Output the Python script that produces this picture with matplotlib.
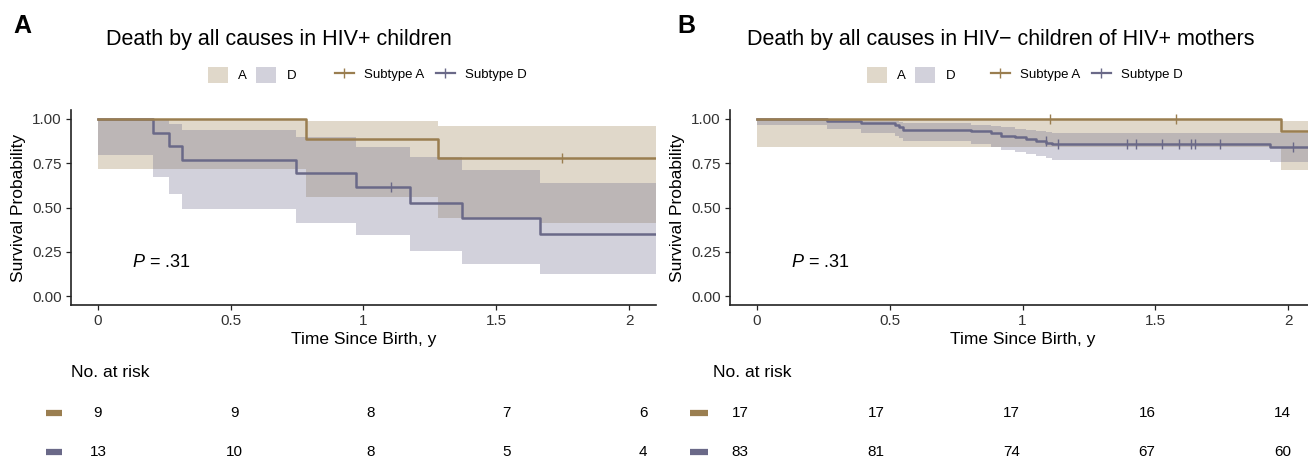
import matplotlib
matplotlib.use("Agg")
import matplotlib.pyplot as plt
from matplotlib.patches import Patch
from matplotlib.lines import Line2D

plt.rcParams['font.family'] = ['Liberation Sans', 'DejaVu Sans']
plt.rcParams['mathtext.fontset'] = 'custom'
plt.rcParams['mathtext.it'] = 'Liberation Sans:italic'
plt.rcParams['mathtext.rm'] = 'Liberation Sans'

# colours
col_a = '#9A7E50'
col_d = '#6A6988'

# ---- panel A: HIV+ children ----
pa_a_time = [0, 0.783, 1.282]
pa_a_surv = [1.0, 0.889, 0.778]
pa_a_cens = [1.748]
pa_a_band_time = [0, 0.783, 1.282, 1.662]
pa_a_lower = [0.717, 0.56, 0.438, 0.415]
pa_a_upper = [1.0, 0.99, 0.957, 0.957]

pa_d_time = [0, 0.209, 0.27, 0.318, 0.748, 0.971, 1.173, 1.371, 1.662]
pa_d_surv = [1.0, 0.923, 0.846, 0.769, 0.692, 0.615, 0.527, 0.439, 0.351]
pa_d_cens = [1.105]
pa_d_lower = [0.796, 0.674, 0.575, 0.491, 0.413, 0.343, 0.253, 0.183, 0.125]
pa_d_upper = [1.0, 1.0, 0.972, 0.938, 0.896, 0.843, 0.783, 0.711, 0.636]

pa_risk_a = [9, 9, 8, 7, 6]
pa_risk_d = [13, 10, 8, 5, 4]

# ---- panel B: HIV- children of HIV+ mothers ----
pb_a_time = [0, 1.974]
pb_a_surv = [1.0, 0.933]
pb_a_cens = [1.102, 1.576]
pb_a_band_time = [0, 1.974]
pb_a_lower = [0.84, 0.714]
pb_a_upper = [1.0, 0.99]

pb_d_time = [0, 0.265, 0.392, 0.52, 0.535, 0.55, 0.807, 0.882, 0.92, 0.97,
             1.014, 1.051, 1.09, 1.11, 1.929]
pb_d_surv = [1.0, 0.988, 0.976, 0.964, 0.952, 0.940, 0.930, 0.918, 0.906, 0.895,
             0.885, 0.875, 0.866, 0.857, 0.843]
pb_d_cens = [1.089, 1.133, 1.392, 1.425, 1.525, 1.590, 1.634, 1.649, 1.741, 2.017]
pb_d_lower = [0.968, 0.945, 0.921, 0.905, 0.89, 0.874, 0.859, 0.84, 0.827, 0.814,
              0.80, 0.79, 0.78, 0.77, 0.757]
pb_d_upper = [1.0, 0.998, 0.99, 0.988, 0.985, 0.978, 0.968, 0.96, 0.952, 0.945,
              0.937, 0.93, 0.925, 0.921, 0.92]

pb_risk_a = [17, 17, 17, 16, 14]
pb_risk_d = [83, 81, 74, 67, 60]

risk_times = [0, 0.5, 1, 1.5, 2]
x_ticks = [0, 0.5, 1, 1.5, 2]
x_tick_labels = ['0', '0.5', '1', '1.5', '2']
y_ticks = [0, 0.25, 0.5, 0.75, 1.0]

XMAX = 2.1
W, H = 1308, 462
fig = plt.figure(figsize=(W / 100, H / 100), dpi=100)


def px_axes(left, top, right, bottom):
    return fig.add_axes([left / W, 1 - bottom / H, (right - left) / W, (bottom - top) / H])


def step_at(t, s, x, default):
    v = default
    for ti, si in zip(t, s):
        if ti <= x:
            v = si
    return v


def km_panel(ax, a_t, a_s, a_c, a_bt, a_lo, a_hi, d_t, d_s, d_c, d_lo, d_hi):
    # confidence bands
    ax.fill_between(a_bt + [XMAX], a_lo + [a_lo[-1]], a_hi + [a_hi[-1]],
                    step='post', color=col_a, alpha=0.3, lw=0)
    ax.fill_between(d_t + [XMAX], d_lo + [d_lo[-1]], d_hi + [d_hi[-1]],
                    step='post', color=col_d, alpha=0.3, lw=0)
    # curves
    ax.step(d_t + [XMAX], d_s + [d_s[-1]], where='post', color=col_d, lw=1.8)
    ax.step(a_t + [XMAX], a_s + [a_s[-1]], where='post', color=col_a, lw=1.8)
    # censor marks
    ax.plot(a_c, [step_at(a_t, a_s, c, 1.0) for c in a_c], ls='none',
            marker='|', ms=7, mew=1.0, color=col_a)
    ax.plot(d_c, [step_at(d_t, d_s, c, 1.0) for c in d_c], ls='none',
            marker='|', ms=7, mew=1.0, color=col_d)

    ax.set_xlim(-0.1, XMAX)
    ax.set_ylim(-0.05, 1.05)
    ax.set_xticks(x_ticks)
    ax.set_xticklabels(x_tick_labels)
    ax.set_yticks(y_ticks)
    ax.set_yticklabels(['%.2f' % v for v in y_ticks])
    for sp in ['top', 'right']:
        ax.spines[sp].set_visible(False)
    for sp in ['left', 'bottom']:
        ax.spines[sp].set_linewidth(1.2)
        ax.spines[sp].set_color('#222222')
    ax.tick_params(labelsize=11, length=3.5, width=0.9, pad=3, colors='#222222',
                   labelcolor='#333333')
    ax.set_xlabel('Time Since Birth, y', fontsize=12.5)
    ax.set_ylabel('Survival Probability', fontsize=12.5)
    ax.xaxis.set_label_coords(0.5, -0.14)
    ax.yaxis.set_label_coords(-0.077, 0.5)
    ax.text(0.13, 0.19, r'$P$ = .31', fontsize=13, va='center', ha='left')


def risk_table(ax, risk_a, risk_d, dash):
    ax.set_xlim(-0.1, XMAX)
    ax.set_ylim(1.5, -0.5)
    ax.axis('off')
    for row, (vals, col) in enumerate([(risk_a, col_a), (risk_d, col_d)]):
        for t, v in zip(risk_times, vals):
            ax.text(t, row, str(v), ha='center', va='center', fontsize=11)
        ax.plot(dash, [row, row], color=col, lw=4.5, solid_capstyle='butt', clip_on=False)
    ax.text(0, 1.27, 'No. at risk', transform=ax.transAxes, ha='left', va='center',
            fontsize=12.5)


def legends(x_patch, x_line):
    patch_handles = [Patch(facecolor=col_a, alpha=0.3, lw=0),
                     Patch(facecolor=col_d, alpha=0.3, lw=0)]
    line_handles = [Line2D([0], [0], color=col_a, lw=1.6, marker='|', ms=7, mew=1),
                    Line2D([0], [0], color=col_d, lw=1.6, marker='|', ms=7, mew=1)]
    fig.legend(patch_handles, ['A', 'D'], loc='center', ncol=2, frameon=False,
               bbox_to_anchor=(x_patch / W, 1 - 75 / H), fontsize=9.5,
               handlelength=1.5, handleheight=1.5, handletextpad=0.8,
               columnspacing=0.7, borderpad=0)
    fig.legend(line_handles, ['Subtype A', 'Subtype D'], loc='center', ncol=2,
               frameon=False, bbox_to_anchor=(x_line / W, 1 - 75 / H), fontsize=9.5,
               handlelength=1.4, handletextpad=0.8, columnspacing=0.9, borderpad=0)


ax_a = px_axes(71, 110, 656, 305)
km_panel(ax_a, pa_a_time, pa_a_surv, pa_a_cens, pa_a_band_time, pa_a_lower, pa_a_upper,
         pa_d_time, pa_d_surv, pa_d_cens, pa_d_lower, pa_d_upper)
ax_b = px_axes(730, 110, 1315, 305)
km_panel(ax_b, pb_a_time, pb_a_surv, pb_a_cens, pb_a_band_time, pb_a_lower, pb_a_upper,
         pb_d_time, pb_d_surv, pb_d_cens, pb_d_lower, pb_d_upper)

tab_a = px_axes(70.75, 393.5, 670.25, 471.5)
risk_table(tab_a, pa_risk_a, pa_risk_d, [-0.19, -0.132])
tab_b = px_axes(713, 393.5, 1310, 471.5)
risk_table(tab_b, pb_risk_a, pb_risk_d, [-0.184, -0.118])

fig.text(106 / W, 1 - 45 / H, 'Death by all causes in HIV+ children', fontsize=15.5,
         ha='left', va='baseline')
fig.text(747 / W, 1 - 45 / H, 'Death by all causes in HIV\u2212 children of HIV+ mothers',
         fontsize=15.5, ha='left', va='baseline')
fig.text(13 / W, 1 - 33 / H, 'A', fontsize=18, fontweight='bold', ha='left', va='baseline')
fig.text(677 / W, 1 - 33 / H, 'B', fontsize=18, fontweight='bold', ha='left', va='baseline')

legends(252, 431)
legends(911, 1087)

fig.savefig('out.png', dpi=100)
